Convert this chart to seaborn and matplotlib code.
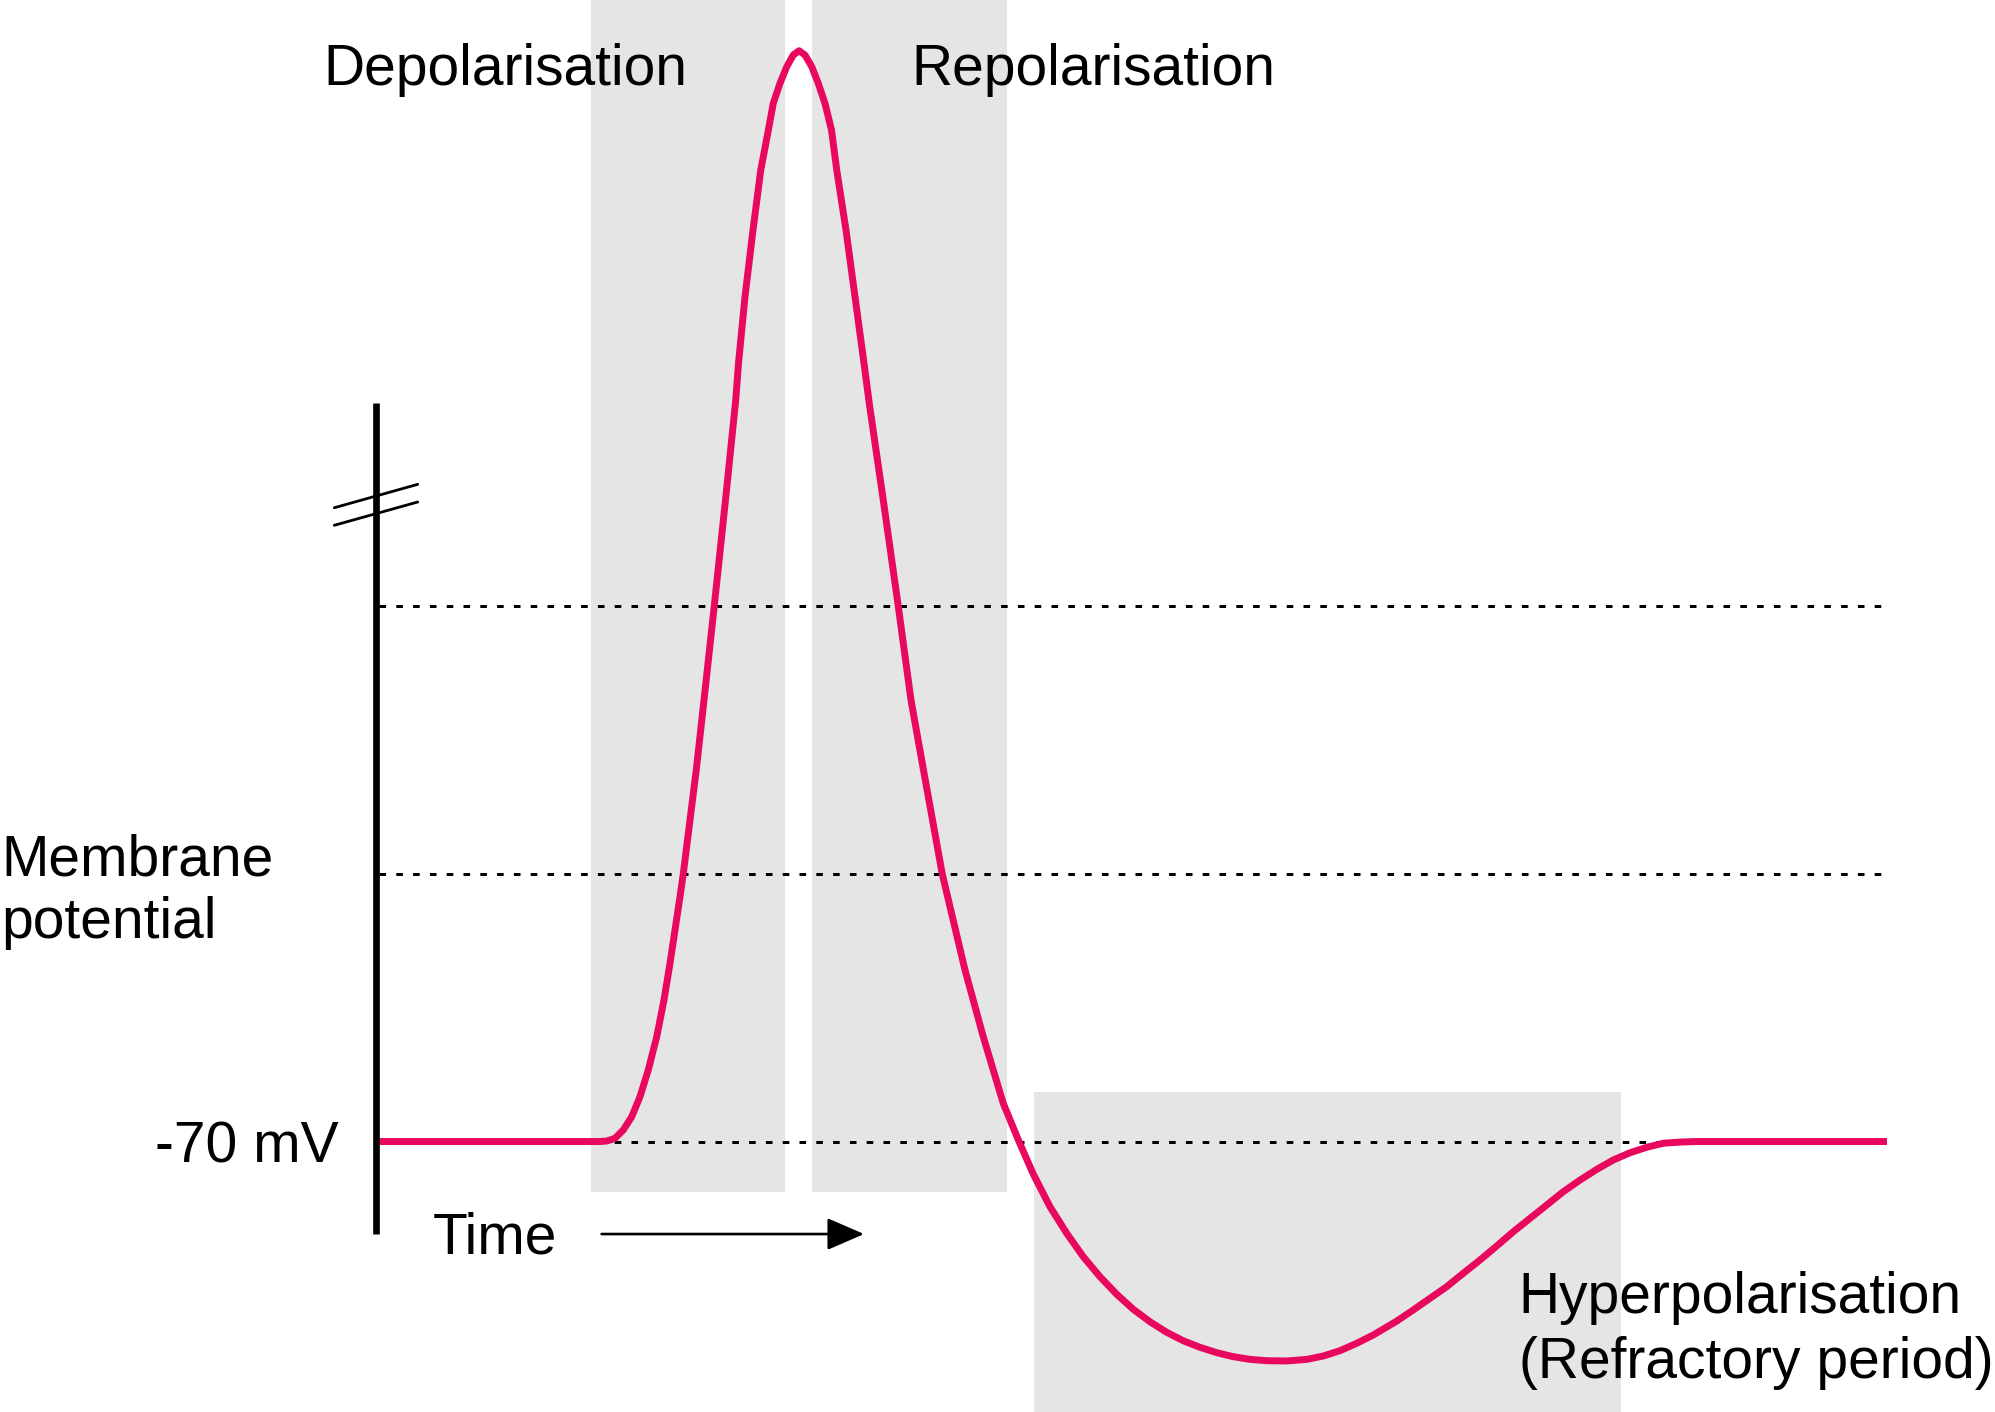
import matplotlib
matplotlib.use("Agg")
import matplotlib.pyplot as plt
import seaborn as sns
import pandas as pd

# ---------------- data ----------------
time_ms = [0.000, 1.792, 1.848, 1.912, 1.978, 2.046, 2.112, 2.178, 2.246, 2.304,
           2.352, 2.392, 2.432, 2.458, 2.512, 2.562, 2.624, 2.706, 2.796, 2.878,
           2.900, 2.952, 3.016, 3.078, 3.139, 3.178, 3.232, 3.286, 3.338, 3.384,
           3.432, 3.486, 3.538, 3.592, 3.644, 3.686, 3.760, 3.832, 3.904, 3.948,
           4.058, 4.178, 4.280, 4.380, 4.530, 4.712, 4.858, 5.018, 5.144, 5.258,
           5.392, 5.526, 5.658, 5.792, 5.926, 6.058, 6.192, 6.326, 6.458, 6.592,
           6.726, 6.858, 6.992, 7.126, 7.286, 7.446, 7.578, 7.712, 7.846, 7.978,
           8.166, 8.298, 8.432, 8.566, 8.698, 8.832, 8.966, 9.098, 9.232, 9.366,
           9.498, 9.632, 9.766, 9.898, 10.032, 10.166, 10.298, 10.432, 10.566, 12.088]
potential_mv = [-70.00, -70.00, -69.96, -69.76, -69.14, -68.15, -66.65, -64.66, -62.17,
                -59.43, -56.69, -54.20, -51.72, -50.02, -45.99, -42.26, -37.03, -30.01,
                -22.09, -14.62, -11.88, -6.91, -1.93, 2.55, 5.54, 7.53, 9.03, 10.27,
                11.14, 11.46, 11.14, 10.27, 9.03, 7.53, 5.54, 2.55, -1.93, -6.91,
                -11.88, -15.00, -22.09, -30.01, -37.03, -42.26, -50.02, -57.19, -62.17,
                -67.15, -70.00, -72.43, -74.87, -76.86, -78.60, -80.10, -81.41, -82.53,
                -83.46, -84.25, -84.88, -85.37, -85.77, -86.07, -86.27, -86.37, -86.39,
                -86.27, -86.02, -85.62, -85.07, -84.45, -83.41, -82.58, -81.71, -80.84,
                -79.84, -78.85, -77.80, -76.74, -75.74, -74.74, -73.75, -72.88, -72.08,
                -71.38, -70.84, -70.43, -70.13, -70.04, -70.00, -70.00]
guide_levels_mv = [-70, -50, -30]
rest_label = "-70 mV"
phase_names = ["Depolarisation", "Repolarisation", "Hyperpolarisation",
               "(Refractory period)"]
phase_start_ms = [1.72, 3.49, 5.264]
phase_end_ms = [3.272, 5.046, 9.96]

# ---------------- style ----------------
PINK = "#E8085E"
GREY = "#E5E5E5"
FS = 41

sns.set_theme(style="white")
plt.rcParams["font.family"] = ["Liberation Sans", "DejaVu Sans"]
plt.rcParams["text.color"] = "black"

fig = plt.figure(figsize=(19.95, 14.12), dpi=100)
ax = fig.add_axes([0, 0, 1, 1])
XLIM = (-3.008, 12.952)
YLIM = (-90.20, 15.25)
ax.set_xlim(*XLIM)
ax.set_ylim(*YLIM)
ax.axis("off")

y_bot, y_top = YLIM

# phase boxes
box_low = [-73.77, -73.77, y_bot]
box_high = [y_top, y_top, -66.28]
for s, e, lo, hi in zip(phase_start_ms, phase_end_ms, box_low, box_high):
    ax.fill_between([s, e], lo, hi, color=GREY, lw=0, zorder=0)

# guide lines
ax.hlines(guide_levels_mv, 0.02, 12.056, colors="black",
          linestyles=[(0, (2.2, 3.4))], lw=2.16, zorder=1)

# action potential trace
df = pd.DataFrame({"time": time_ms, "potential": potential_mv})
n_before = len(ax.lines)
sns.lineplot(data=df, x="time", y="potential", sort=False, estimator=None,
             color=PINK, ax=ax, zorder=3)
for ln in ax.lines[n_before:]:
    ln.set_linewidth(5.0)
    ln.set_solid_joinstyle("round")
    ln.set_solid_capstyle("butt")
ax.set_xlabel("")
ax.set_ylabel("")
ax.set_xlim(*XLIM)
ax.set_ylim(*YLIM)

# y axis with break marks
ax.plot([0, 0], [-76.91, -14.85], color="black", lw=4.8,
        solid_capstyle="butt", zorder=4)
ax.plot([-0.334, 0.334], [-22.67, -20.92], color="black", lw=2, zorder=4)
ax.plot([-0.334, 0.334], [-23.98, -22.24], color="black", lw=2, zorder=4)

# time arrow
ax.annotate("", xy=(3.904, -76.91), xytext=(1.805, -76.91),
            arrowprops=dict(arrowstyle="-|>,head_length=1.15,head_width=0.5",
                            mutation_scale=20, lw=1.9, color="black",
                            shrinkA=0, shrinkB=0), zorder=4)

# texts
ax.text(1.032, 8.90, phase_names[0], fontsize=FS, ha="center", va="baseline", zorder=5)
ax.text(5.736, 8.90, phase_names[1], fontsize=FS, ha="center", va="baseline", zorder=5)
ax.text(9.142, -82.81, phase_names[2], fontsize=FS, ha="left", va="baseline", zorder=5)
ax.text(9.142, -87.69, phase_names[3], fontsize=FS, ha="left", va="baseline", zorder=5)
ax.text(-2.994, -50.10, "Membrane", fontsize=FS, ha="left", va="baseline", zorder=5)
ax.text(-2.994, -54.80, "potential", fontsize=FS, ha="left", va="baseline", zorder=5)
ax.text(-0.296, -71.58, rest_label, fontsize=FS, ha="right", va="baseline", zorder=5)
ax.text(0.456, -78.33, "Time", fontsize=FS, ha="left", va="baseline", zorder=5)

fig.savefig("out.png", dpi=100, facecolor="white")
